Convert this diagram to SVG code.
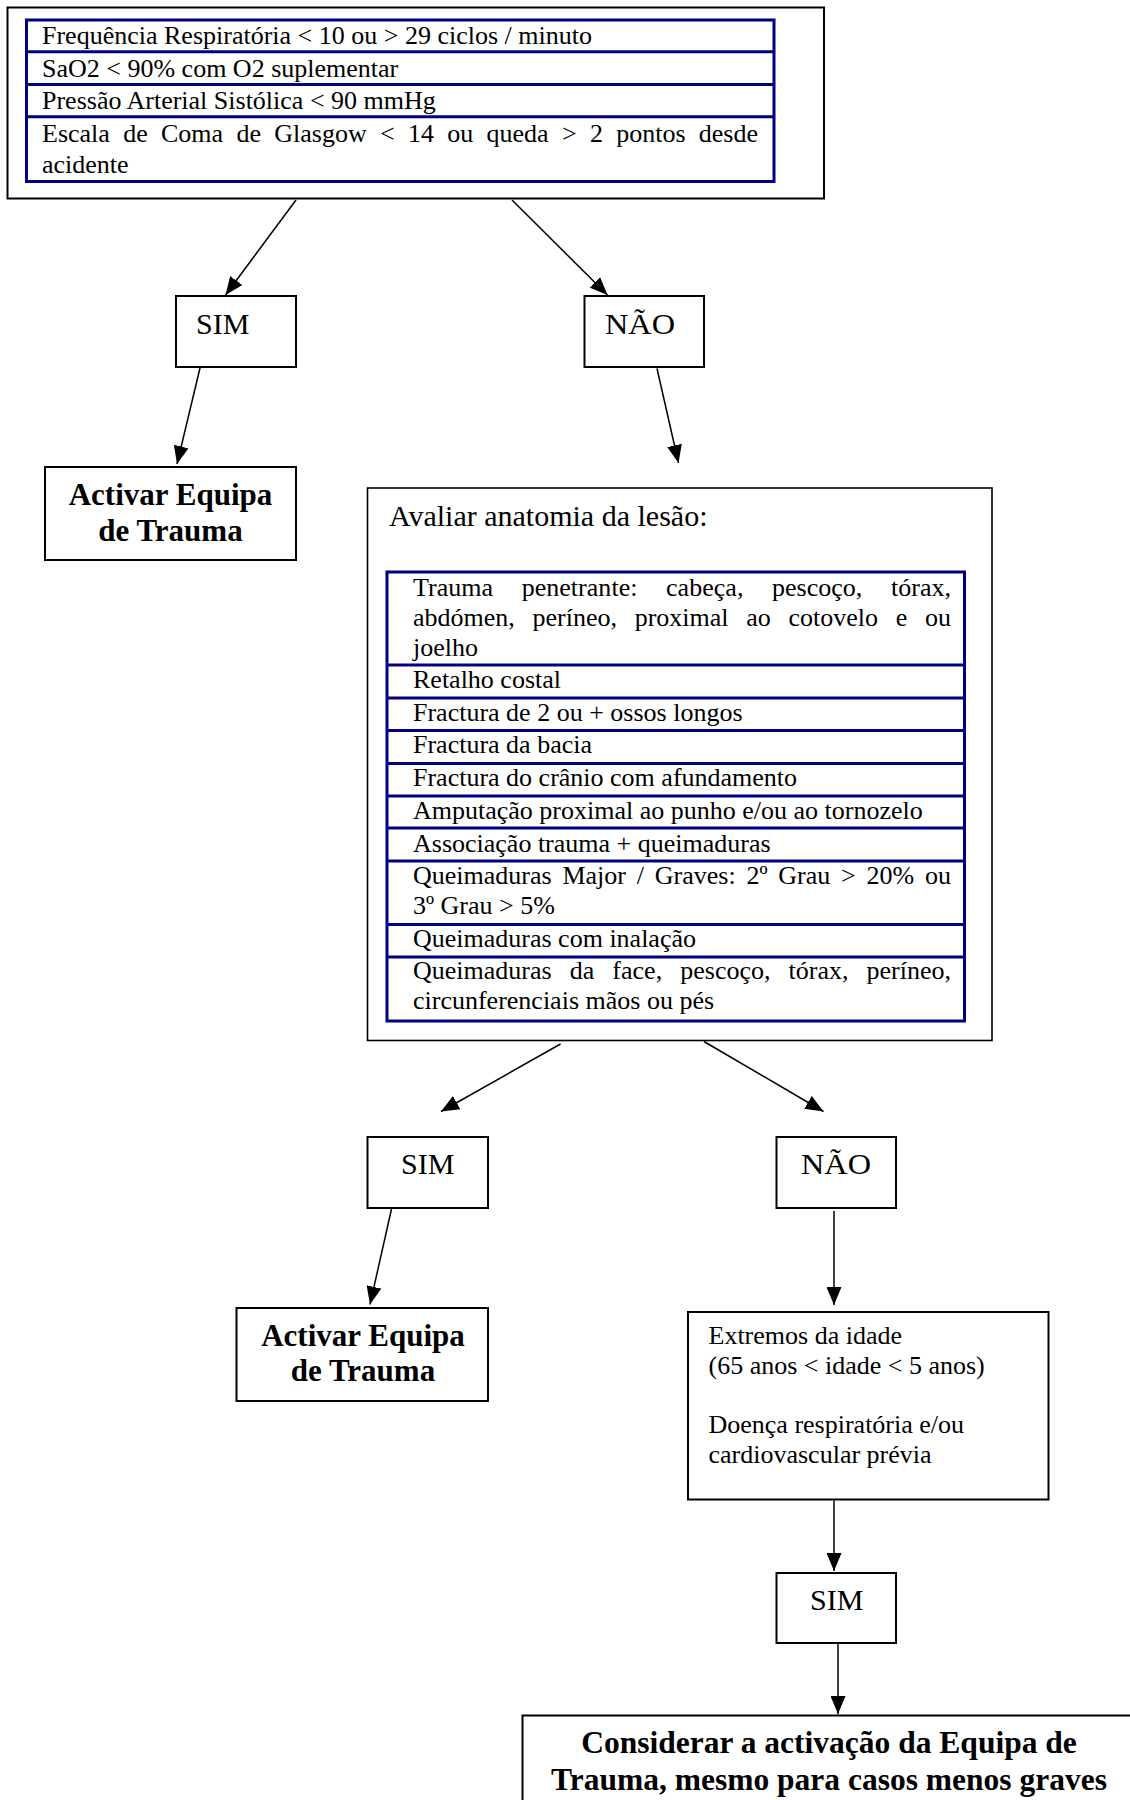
<svg xmlns="http://www.w3.org/2000/svg" width="1130" height="1800" viewBox="0 0 1130 1800">
<style>
.box{fill:#fff;stroke:#000;stroke-width:2}
.tbl{fill:none;stroke:#000080;stroke-width:3}
.t{font-family:"Liberation Serif","Times New Roman",serif;font-size:26px;fill:#000}
.lbl{font-family:"Liberation Serif","Times New Roman",serif;font-size:30px;fill:#000}
.b{font-family:"Liberation Serif","Times New Roman",serif;font-size:31px;font-weight:bold;fill:#000;text-anchor:middle}
.c{stroke:#000;stroke-width:1.5;fill:none;marker-end:url(#ah)}
</style>
<defs>
<marker id="ah" viewBox="0 0 18 15" refX="18" refY="7.5" markerWidth="18" markerHeight="15" markerUnits="userSpaceOnUse" orient="auto">
<path d="M0,0 L18,7.5 L0,15 z" fill="#000"/>
</marker>
</defs>
<rect width="1130" height="1800" fill="#fff"/>

<g id="criterios-fisiologicos">
<rect class="box" x="7.5" y="7.5" width="816.5" height="191"/>
<rect class="tbl" x="26.5" y="20" width="747.5" height="161.5"/>
<path class="tbl" d="M26.5,51.7H774M26.5,84.5H774M26.5,116.7H774"/>
<text class="t" x="42" y="44">Frequência Respiratória &lt; 10 ou &gt; 29 ciclos / minuto</text>
<text class="t" x="42" y="76.5">SaO2 &lt; 90% com O2 suplementar</text>
<text class="t" x="42" y="109">Pressão Arterial Sistólica &lt; 90 mmHg</text>
<text class="t" x="42" y="141.5" word-spacing="6.8" textLength="716" lengthAdjust="spacing">Escala de Coma de Glasgow &lt; 14 ou queda &gt; 2 pontos desde</text>
<text class="t" x="42" y="172.5">acidente</text>
</g>

<g id="sim1">
<rect class="box" x="176" y="296" width="120" height="71"/>
<text class="lbl" x="196" y="334">SIM</text>
</g>
<g id="nao1">
<rect class="box" x="584.5" y="296" width="119.5" height="71"/>
<text class="lbl" x="605" y="334" textLength="70" lengthAdjust="spacingAndGlyphs">NÃO</text>
</g>
<g id="activar1">
<rect class="box" x="45" y="467" width="251" height="93"/>
<text class="b" x="170.5" y="504.5">Activar Equipa</text>
<text class="b" x="170.5" y="540.5">de Trauma</text>
</g>

<g id="anatomia">
<rect class="box" x="367.5" y="488" width="624.5" height="552.5" style="stroke-width:1.6"/>
<text class="t" x="389" y="526" style="font-size:30px">Avaliar anatomia da lesão:</text>
<rect class="tbl" x="387" y="572" width="577.5" height="449"/>
<path class="tbl" d="M387,665H964.5M387,698H964.5M387,730.5H964.5M387,763.5H964.5M387,796H964.5M387,828H964.5M387,861H964.5M387,924.5H964.5M387,957H964.5"/>
<text class="t" x="413" y="596" word-spacing="22" textLength="538" lengthAdjust="spacing">Trauma penetrante: cabeça, pescoço, tórax,</text>
<text class="t" x="413" y="626" word-spacing="11.2" textLength="538" lengthAdjust="spacing">abdómen, períneo, proximal ao cotovelo e ou</text>
<text class="t" x="413" y="656">joelho</text>
<text class="t" x="413" y="688">Retalho costal</text>
<text class="t" x="413" y="721">Fractura de 2 ou + ossos longos</text>
<text class="t" x="413" y="753">Fractura da bacia</text>
<text class="t" x="413" y="786">Fractura do crânio com afundamento</text>
<text class="t" x="413" y="819">Amputação proximal ao punho e/ou ao tornozelo</text>
<text class="t" x="413" y="852">Associação trauma + queimaduras</text>
<text class="t" x="413" y="884" word-spacing="4.3" textLength="538" lengthAdjust="spacing">Queimaduras Major / Graves: 2º Grau &gt; 20% ou</text>
<text class="t" x="413" y="914">3º Grau &gt; 5%</text>
<text class="t" x="413" y="947">Queimaduras com inalação</text>
<text class="t" x="413" y="979" word-spacing="11.6" textLength="538" lengthAdjust="spacing">Queimaduras da face, pescoço, tórax, períneo,</text>
<text class="t" x="413" y="1009">circunferenciais mãos ou pés</text>
</g>

<g id="sim2">
<rect class="box" x="367.5" y="1137" width="120.5" height="71"/>
<text class="lbl" x="401" y="1174">SIM</text>
</g>
<g id="nao2">
<rect class="box" x="776.5" y="1137" width="119.5" height="71"/>
<text class="lbl" x="801" y="1174" textLength="70" lengthAdjust="spacingAndGlyphs">NÃO</text>
</g>
<g id="activar2">
<rect class="box" x="236.5" y="1308" width="251.5" height="93"/>
<text class="b" x="363" y="1345.5">Activar Equipa</text>
<text class="b" x="363" y="1381">de Trauma</text>
</g>

<g id="extremos">
<rect class="box" x="688" y="1312" width="360.5" height="187.5"/>
<text class="t" x="708.5" y="1344">Extremos da idade</text>
<text class="t" x="708.5" y="1373.5">(65 anos &lt; idade &lt; 5 anos)</text>
<text class="t" x="708.5" y="1433">Doença respiratória e/ou</text>
<text class="t" x="708.5" y="1462.5">cardiovascular prévia</text>
</g>

<g id="sim3">
<rect class="box" x="776.5" y="1573" width="119.5" height="70"/>
<text class="lbl" x="810" y="1610">SIM</text>
</g>

<g id="considerar">
<rect class="box" x="522.5" y="1715.5" width="700" height="200"/>
<text class="b" x="829" y="1753" style="font-size:31.5px">Considerar a activação da Equipa de</text>
<text class="b" x="829" y="1790" style="font-size:31.5px">Trauma, mesmo para casos menos graves</text>
</g>

<g id="connectors">
<line class="c" x1="296" y1="200" x2="225.5" y2="295"/>
<line class="c" x1="512" y1="200" x2="607.5" y2="295"/>
<line class="c" x1="200" y1="368" x2="177" y2="464"/>
<line class="c" x1="657" y1="368.5" x2="678.5" y2="463"/>
<line class="c" x1="560.5" y1="1044" x2="441" y2="1111.5"/>
<line class="c" x1="704" y1="1041.5" x2="823.5" y2="1111.5"/>
<line class="c" x1="391.5" y1="1209" x2="370" y2="1304.5"/>
<line class="c" x1="834" y1="1211" x2="834" y2="1305"/>
<line class="c" x1="834" y1="1500.5" x2="834" y2="1571"/>
<line class="c" x1="838" y1="1644" x2="838" y2="1714"/>
</g>
</svg>
